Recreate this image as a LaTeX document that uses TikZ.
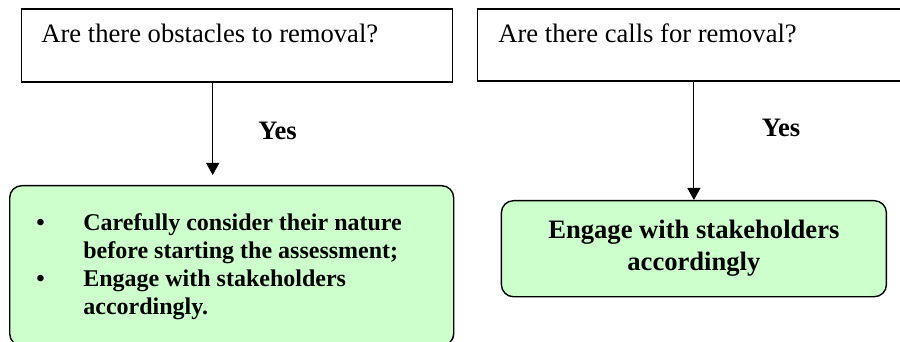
\documentclass[tikz,border=0pt]{standalone}
\usepackage{fontspec}
\setmainfont{Liberation Serif}
\usepackage{array}
\usetikzlibrary{arrows.meta}
\definecolor{actgreen}{RGB}{204,255,204}
\tikzstyle{question}=[draw,line width=0.7pt,rectangle,inner sep=0pt]
\tikzstyle{action}=[draw,line width=0.7pt,rectangle,rounded corners=6pt,fill=actgreen,inner sep=0pt]
\tikzstyle{flow}=[-{Triangle[width=6.5pt,length=6pt]},line width=0.5pt]
\tikzstyle{big}=[font=\fontsize{13.3}{16}\selectfont]
\tikzstyle{answer}=[font=\fontsize{13.3}{16}\selectfont\bfseries]

\begin{document}
\begin{tikzpicture}[x=0.5pt,y=-0.5pt,font=\fontsize{12}{14}\selectfont]
\useasboundingbox (0,0) rectangle (900,342);
\node[question,minimum width=215.5pt,minimum height=36.5pt,anchor=north west] at (20.7,8.3) (q1) {};
\node[question,minimum width=220pt,minimum height=36pt,anchor=north west] at (477,8.3) (q2) {};
\node[big,anchor=base west,inner sep=0pt] at (41,43) (q1t) {Are there obstacles to removal?};
\node[big,anchor=base west,inner sep=0pt] at (498,43) (q2t) {Are there calls for removal?};
\node[action,minimum width=222pt,minimum height=80pt,anchor=north west] at (9,185) (a1) {};
\node[action,big,minimum width=192.5pt,minimum height=48pt,anchor=north west] at (500.7,200) (a2)
  {\parbox{190pt}{\centering\bfseries Engage with stakeholders\\accordingly}};
\node[anchor=north west,inner sep=0pt] at (36,210) (a1t) {\bfseries\setlength{\tabcolsep}{0pt}%
  \begin{tabular}{@{}>{\raggedright}p{23.5pt}>{\raggedright\arraybackslash}p{170pt}@{}}
  \textbullet & Carefully consider their nature before starting the assessment;\\
  \textbullet & Engage with stakeholders accordingly.
  \end{tabular}};
\coordinate (c1) at (212.7,175);
\draw[flow] (q1.south -| c1) -- (c1);
\draw[flow] (q2.south -| a2.north) -- (a2.north);
\node[answer] at (277.5,131) (y1) {Yes};
\node[answer] at (781,128) (y2) {Yes};
\end{tikzpicture}
\end{document}
